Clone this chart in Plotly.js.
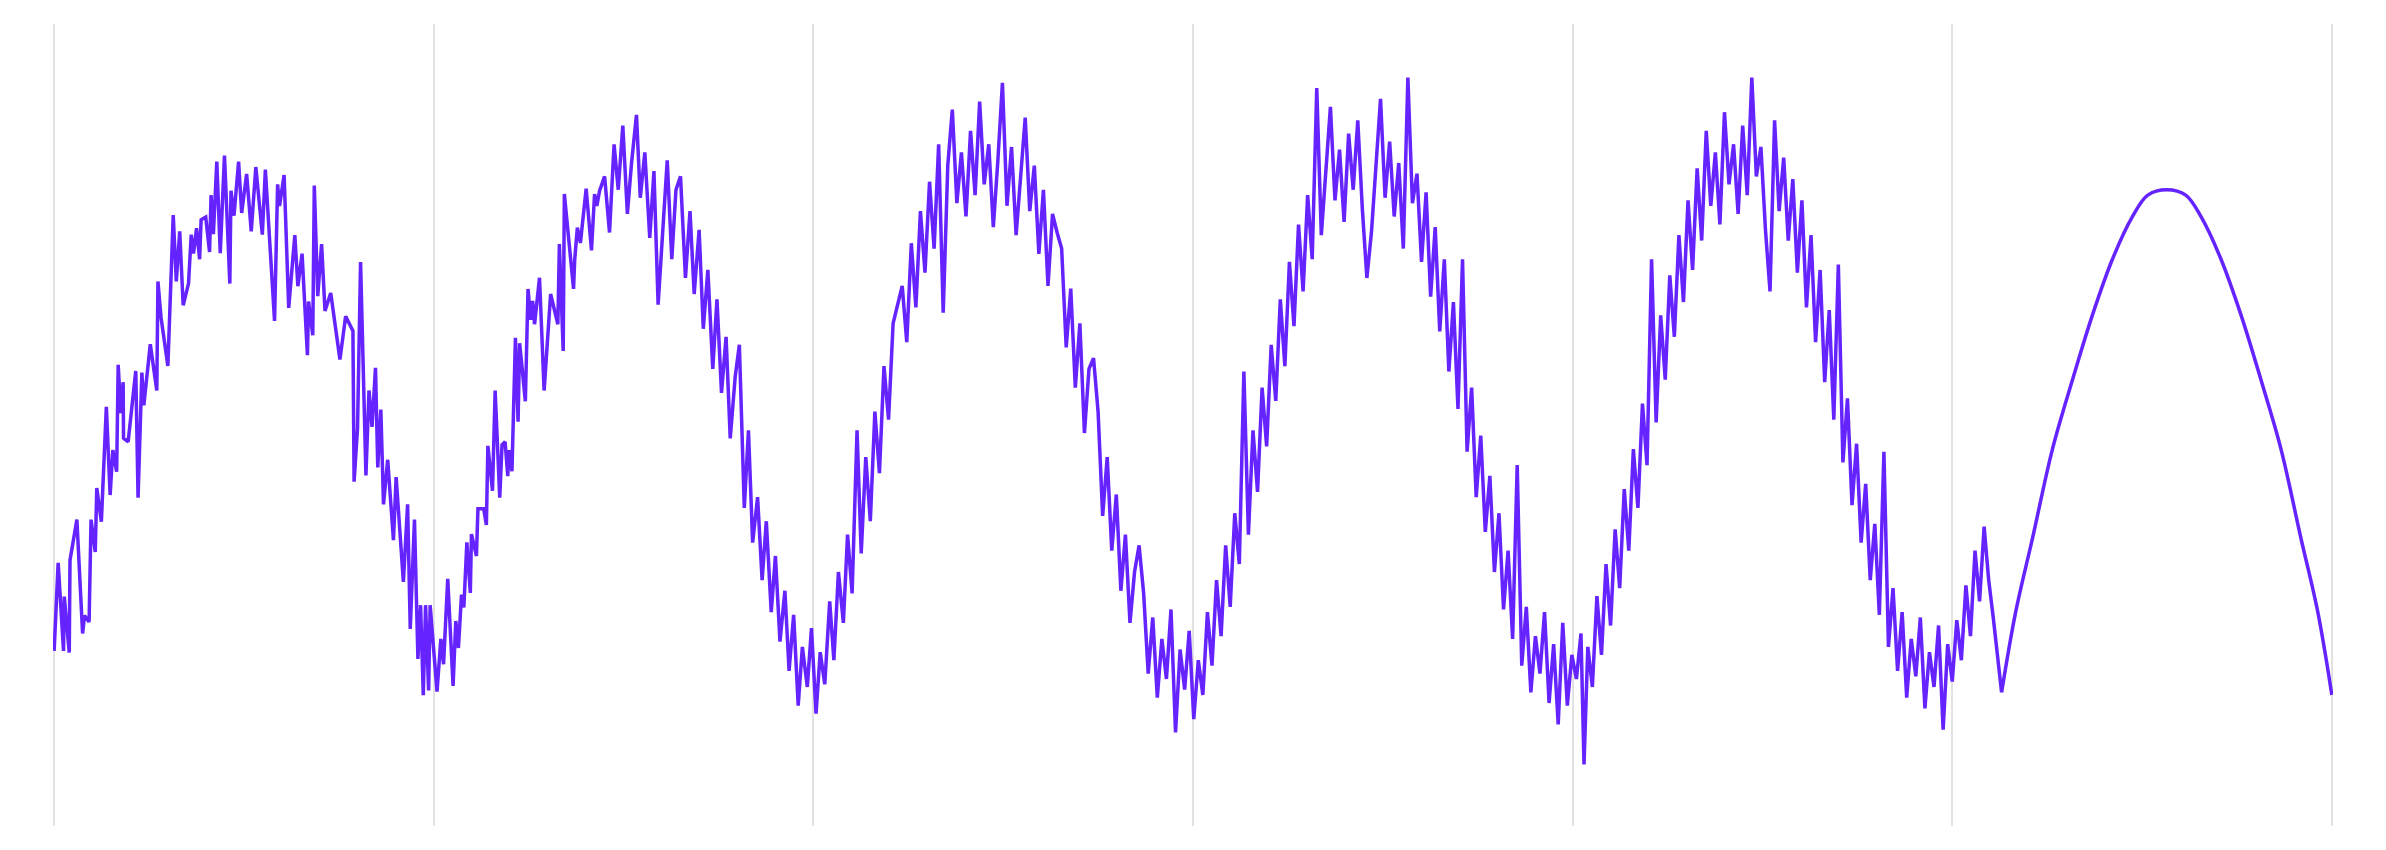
<!DOCTYPE html>
<html>
<head>
<meta charset="utf-8">
<script src="https://cdn.plot.ly/plotly-3.0.1.min.js"></script>
<style>html,body{margin:0;padding:0;background:#fff;}#chart{width:2386px;height:850px;}</style>
</head>
<body>
<div id="chart"></div>
<script>
const obsX = [0,1.06,2.47,2.67,3.98,4.18,5.99,7.50,8.01,9.21,9.72,10.83,11.23,12.44,13.75,14.75,15.46,16.47,16.87,17.57,18.18,18.28,19.49,21.50,22.11,23.11,23.62,25.33,27.04,27.34,28.15,29.96,31.37,32.18,33.08,33.99,35.40,36.11,36.71,37.52,38.32,38.72,39.93,40.94,41.34,41.95,42.85,43.76,44.87,46.28,46.58,47.38,48.59,49.40,50.71,51.92,53.13,54.84,55.64,58.06,58.87,59.37,60.58,61.79,63.40,64.21,65.31,66.72,67.02,68.13,68.53,69.44,70.45,71.35,72.86,75.28,76.79,78.71,79.01,79.92,80.72,82.13,82.94,83.74,84.65,85.25,86.06,86.76,87.87,89.38,90.09,92.00,93.11,93.81,94.92,95.83,96.53,97.24,97.84,98.65,99.05,100.86,101.87,102.58,103.68,105.09,105.80,106.50,107.31,107.92,108.72,109.63,109.93,111.24,111.64,113.15,113.86,114.26,115.47,116.17,117.38,117.99,118.79,119.50,119.80,120.60,121.51,122.21,122.62,123.42,124.13,124.83,125.54,126.04,126.55,127.86,129.07,130.78,132.69,133.09,134.10,134.40,136.82,137.12,137.82,138.63,140.14,141.55,142.36,142.96,143.67,
  145,146.3,147.5,148.6,149.8,151,152.1,153.4,154.4,155.6,156.9,158,159.1,160.4,161.5,162.7,163.8,165,166.3,167.5,168.6,169.9,171,172.2,173.5,174.6,175.8,177,178.1,179.4,180.5,181.8,182.9,184,185.3,186.5,187.6,188.9,190,191.2,192.5,193.6,194.8,196,197.1,198.4,199.5,200.7,
  201.8,203,204.3,205.4,206.6,207.9,209,210.2,211.5,212.6,213.8,215,216.2,217.4,218.6,219.8,221,222.2,223.4,224.6,225.8,227,228.2,229.4,230.6,231.8,233,234.2,235.4,236.6,237.8,239,240.2,241.4,242.6,243.8,245,246.2,247.4,248.6,249.8,251,252.2,253.4,254.6,255.8,257,258.2,259.4,260.6,261.8,263,264.2,265.4,266.6,267.8,269,270.2,271.4,272.6,273.8,275,276.2,277.4,278.6,279.8,281,282.2,283.4,284.6,285.8,287,288.2,289.4,290.6,291.8,293,294.2,295.4,296.6,297.8,299,300.2,
  301.4,302.6,303.8,305,306.2,307.4,308.6,309.8,311,312.2,313.4,314.6,315.8,317,318.2,319.4,320.6,321.8,323,324.2,325.4,326.6,327.8,329,330.2,331.4,332.6,333.8,335,336.2,337.4,338.6,339.8,341,342.2,343.4,344.6,345.8,347,348.2,349.4,350.6,351.8,353,354.2,355.4,356.6,357.8,359,360.2,361.4,362.6,363.8,365,366.2,367.4,368.6,369.8,371,372.2,373.4,374.6,375.8,377,378.2,379.4,380.6,381.8,383,384.2,385.4,386.6,387.8,389,390.2,391.4,392.6,393.8,395,396.2,397.4,398.6,399.8,
  401,402.2,403,404,405.2,406.4,407.6,408.8,410,411.2,412.4,413.6,414.8,416,417.2,418.4,419.6,420.8,422,423.2,424.4,425.6,426.8,428,429.2,430.4,431.6,432.8,434,435.2,436.4,437.6,438.8,440,441.2,442.4,443.6,444.8,446,447.2,448.4,449.6,450.8,452,453.2,454.4,455.6,456.8,458,459.2,460.4,461.6,462.8,464,465.2,466.4,467.6,468.8,470,471.2,472.4,473.6,474.8,476,477.2,478.4,479.6,480.8,482,483.2,484.4,485.6,486.8,488,489.2,490.4,491.6,492.8,494,495.2,496.4,497.6,498.8,500,
  501.2,502.4,503.6,504.8,506,507.2,508.4,509.6,510.8,512,513];
const obsY = [-0.845,-0.516,-0.845,-0.642,-0.851,-0.506,-0.354,-0.780,-0.713,-0.737,-0.354,-0.475,-0.236,-0.362,0.068,-0.262,-0.094,-0.175,0.225,0.044,0.160,-0.049,-0.063,0.202,-0.272,0.196,0.074,0.302,0.129,0.537,0.403,0.221,0.785,0.537,0.724,0.448,0.529,0.712,0.641,0.736,0.620,0.768,0.778,0.647,0.860,0.714,0.985,0.643,1.008,0.529,0.876,0.783,0.985,0.793,0.939,0.724,0.965,0.712,0.955,0.389,0.900,0.819,0.935,0.438,0.710,0.519,0.641,0.261,0.462,0.336,0.896,0.482,0.677,0.427,0.494,0.245,0.407,0.352,-0.212,-0.013,0.610,-0.189,0.129,-0.007,0.214,-0.159,0.058,-0.297,-0.130,-0.431,-0.195,-0.587,-0.297,-0.763,-0.354,-0.875,-0.674,-1.011,-0.674,-0.993,-0.674,-0.997,-0.800,-0.895,-0.575,-0.976,-0.733,-0.834,-0.634,-0.682,-0.439,-0.628,-0.408,-0.490,-0.313,-0.313,-0.374,-0.078,-0.246,0.129,-0.272,-0.074,-0.063,-0.191,-0.094,-0.173,0.326,0.012,0.306,0.194,0.089,0.509,0.393,0.464,0.377,0.551,0.129,0.490,0.377,0.677,0.277,0.864,0.509,0.616,0.738,0.681,0.884,0.653,0.864,0.819,0.876,
  0.93,0.72,1.05,0.88,1.12,0.79,0.98,1.16,0.85,1.02,0.70,0.95,0.45,0.77,0.99,0.62,0.88,0.93,0.55,0.80,0.49,0.73,0.36,0.58,0.21,0.47,0.12,0.33,-0.05,0.18,0.30,-0.31,-0.02,-0.44,-0.27,-0.58,-0.36,-0.70,-0.49,-0.81,-0.62,-0.92,-0.71,-1.05,-0.83,-0.98,-0.76,-1.08,
  -0.85,-0.97,-0.66,-0.88,-0.55,-0.74,-0.41,-0.63,-0.02,-0.48,-0.12,-0.36,0.05,-0.18,0.22,0.02,0.38,0.45,0.52,0.31,0.68,0.44,0.80,0.57,0.91,0.66,1.05,0.42,0.97,1.18,0.83,1.02,0.78,1.10,0.86,1.21,0.90,1.05,0.74,0.99,1.28,0.82,1.04,0.71,0.95,1.15,0.80,0.97,0.64,0.88,0.52,0.79,0.72,0.66,0.29,0.51,0.14,0.38,-0.03,0.21,0.25,0.05,-0.34,-0.12,-0.47,-0.26,-0.62,-0.41,-0.74,-0.55,-0.45,-0.63,-0.93,-0.72,-1.02,-0.80,-0.95,-0.69,-1.15,-0.84,-0.99,-0.77,-1.10,
  -0.88,-1.01,-0.70,-0.90,-0.58,-0.79,-0.45,-0.68,-0.33,-0.52,0.20,-0.41,-0.02,-0.25,0.14,-0.08,0.30,0.09,0.47,0.22,0.61,0.37,0.75,0.50,0.86,0.62,1.26,0.71,0.93,1.19,0.84,1.03,0.76,1.09,0.88,1.14,0.81,0.55,0.72,0.96,1.22,0.85,1.06,0.78,0.98,0.66,1.30,0.83,0.94,0.61,0.87,0.48,0.74,0.35,0.62,0.20,0.46,0.06,0.62,-0.10,0.14,-0.27,-0.04,-0.40,-0.19,-0.55,-0.33,-0.69,-0.47,-0.80,-0.15,-0.90,-0.68,-1.00,-0.79,-0.93,-0.70,-1.04,-0.82,-1.12,-0.74,-1.05,-0.86,
  -0.95,-0.78,-1.27,-0.83,-0.98,-0.64,-0.86,-0.52,-0.75,-0.39,-0.61,-0.24,-0.47,-0.09,-0.31,0.08,-0.15,0.62,0.01,0.41,0.17,0.56,0.33,0.71,0.46,0.84,0.58,0.96,0.69,1.10,0.82,1.02,0.75,1.17,0.90,1.05,0.79,1.12,0.86,1.30,0.93,1.04,0.73,0.50,1.14,0.80,1.00,0.69,0.92,0.57,0.84,0.44,0.71,0.31,0.58,0.16,0.43,0.02,0.60,-0.14,0.10,-0.30,-0.07,-0.44,-0.22,-0.58,-0.37,-0.71,-0.10,-0.83,-0.61,-0.92,-0.70,-1.02,-0.80,-0.94,-0.72,-1.06,-0.85,-0.98,-0.75,-1.14,-0.82,-0.96,
  -0.73,-0.88,-0.60,-0.79,-0.47,-0.66,-0.38,-0.58,-0.72,-0.86,-1.00];
// Smooth forecast arc
const fcX = [513,516.7,521.2,526.4,531.7,536.9,542.2,547.5,551.5,556.5,561.5,565.5,570.8,576.1,581.3,586.6,591.8,596.3,600];
const fcY = [-1.00,-0.70,-0.42,-0.09,0.17,0.41,0.62,0.78,0.86,0.88,0.86,0.78,0.62,0.41,0.17,-0.09,-0.42,-0.70,-1.01];
const lineColor = '#6423ff';

const data = [
  {x: obsX, y: obsY, type: 'scatter', mode: 'lines', line: {color: lineColor, width: 3.5}, hoverinfo: 'skip'},
  {x: fcX, y: fcY, type: 'scatter', mode: 'lines', line: {color: lineColor, width: 3.5, shape: 'spline', smoothing: 1}, hoverinfo: 'skip'}
];
const layout = {
  width: 2386, height: 850,
  margin: {l: 53, r: 53, t: 24, b: 24},
  paper_bgcolor: '#ffffff', plot_bgcolor: '#ffffff',
  showlegend: false,
  xaxis: {range: [-0.3, 600.3], dtick: 100, tick0: 0, showgrid: true, gridcolor: '#e2e2e2', gridwidth: 2,
          showticklabels: false, zeroline: false, showline: false, ticks: ''},
  yaxis: {range: [-1.5, 1.5], showgrid: false, showticklabels: false, zeroline: false, showline: false, ticks: ''}
};
Plotly.newPlot('chart', data, layout, {staticPlot: true});
</script>
</body>
</html>
